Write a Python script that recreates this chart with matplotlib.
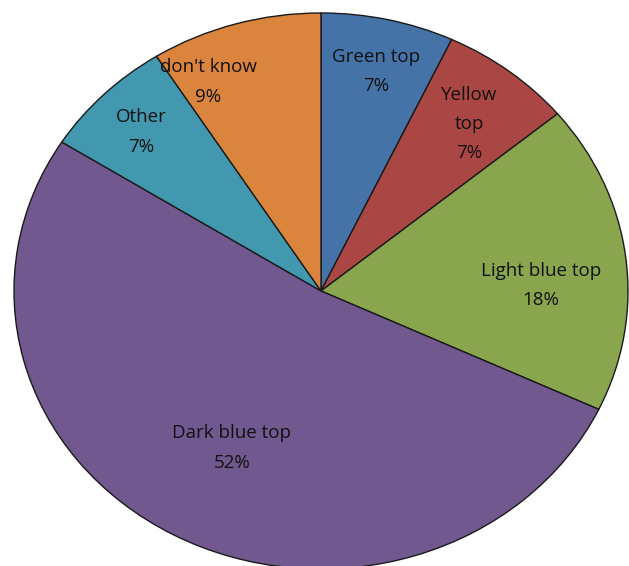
import matplotlib
matplotlib.use("Agg")
from matplotlib import pyplot as plt

# pie data, clockwise from the top
labels = ["Green top", "Yellow\ntop", "Light blue top", "Dark blue top", "Other", "don't know"]
values = [7, 7, 18, 52, 7, 9]
colors = ["#4572A7", "#AA4643", "#89A54E", "#71588F", "#4198AF", "#DB843D"]

# where each label sits (axes units, -1..1)
label_pos = [(0.179, 0.79), (0.482, 0.60), (0.717, 0.02), (-0.29, -0.565), (-0.586, 0.572), (-0.368, 0.752)]

plt.rcParams['font.family'] = ['Open Sans', 'DejaVu Sans']

W, H = 629, 566
fig = plt.figure(figsize=(W / 100, H / 100), dpi=100)

# center (321, 291) px, radii 307 x 278 -> slightly wide ellipse
cx, cy, rx, ry = 321, 291, 307, 278
ax = fig.add_axes([(cx - rx) / W, (H - cy - ry) / H, 2 * rx / W, 2 * ry / H])

ax.pie(values, colors=colors, startangle=90, counterclock=False, radius=1,
       wedgeprops=dict(edgecolor="#1a1a1a", linewidth=1.0))
ax.set_aspect('auto')
ax.set_xlim(-1, 1)
ax.set_ylim(-1, 1)
ax.axis('off')

for lab, v, (x, y) in zip(labels, values, label_pos):
    ax.text(x, y, f"{lab}\n{v}%", ha='center', va='center', fontsize=13.5,
            color="#111111", linespacing=1.8)

fig.savefig("out.png", dpi=100)
